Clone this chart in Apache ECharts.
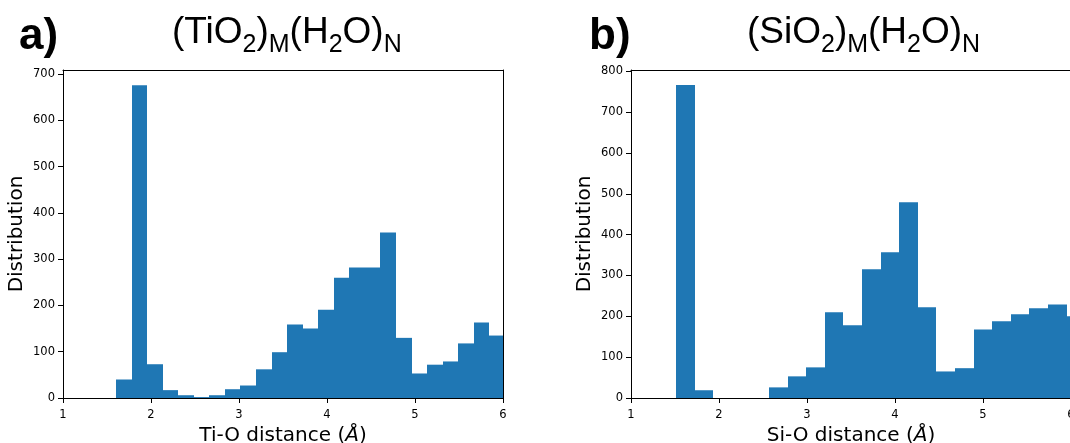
<!DOCTYPE html>
<html>
<head>
<meta charset="utf-8">
<script src="https://cdn.jsdelivr.net/npm/echarts@6/dist/echarts.min.js"></script>
<style>
  html, body { margin: 0; padding: 0; background: #fff; }
  #chart { width: 1070px; height: 443px; }
</style>
</head>
<body>
<div id="chart"></div>
<script>
// ---- Data ----
// Panel a) Ti-O distance histogram
const tiBinStart = 1.602;
const tiBinWidth = 0.1768;
const tiCounts = [40, 676, 73, 17, 6, 2, 6, 19, 27, 62, 99, 159, 150, 191, 260, 282, 282, 358, 130, 53, 72, 79, 118, 163, 135];
const tiYMax = 709;
const tiYTicks = [0, 100, 200, 300, 400, 500, 600, 700];

// Panel b) Si-O distance histogram
const siBinStart = 1.511;
const siBinWidth = 0.2114;
const siCounts = [766, 19, 0, 0, 0, 26, 53, 75, 210, 178, 315, 357, 479, 222, 65, 73, 168, 188, 205, 220, 229, 200];
const siYMax = 803;
const siYTicks = [0, 100, 200, 300, 400, 500, 600, 700, 800];

const xMin = 1, xMax = 6;
const xTicks = [1, 2, 3, 4, 5, 6];

const panelLetters = ['a)', 'b)'];
const panelTitles = [
  '{m|(TiO}{s|2}{m|)}{s|M}{m|(H}{s|2}{m|O)}{s|N}',
  '{m|(SiO}{s|2}{m|)}{s|M}{m|(H}{s|2}{m|O)}{s|N}'
];
const xNames = ['Ti-O distance ({i|Å})', 'Si-O distance ({i|Å})'];
const yName = 'Distribution';

// ---- Build ----
function bins(start, width, counts) {
  return counts.map((c, i) => [start + i * width, start + (i + 1) * width, c]);
}

const BAR = '#1f77b4';
const tickFont = { fontFamily: 'DejaVu Sans', fontSize: 11.5, color: '#000' };
const nameFont = { fontFamily: 'DejaVu Sans', fontSize: 20, color: '#000' };

function renderBar(params, api) {
  const x0 = api.value(0), x1 = api.value(1), y = api.value(2);
  const p0 = api.coord([x0, y]);
  const p1 = api.coord([x1, 0]);
  const left = Math.round(p0[0]);
  const right = Math.round(p1[0]);
  return {
    type: 'rect',
    shape: { x: left, y: p0[1], width: right - left, height: p1[1] - p0[1] },
    style: { fill: BAR }
  };
}

const grids = [
  { left: 63, top: 70, width: 440, height: 328, outerBoundsMode: 'none', containLabel: false },
  { left: 631, top: 70, width: 440, height: 328, outerBoundsMode: 'none', containLabel: false }
];

const xAxes = [], yAxes = [];
[0, 1].forEach(g => {
  xAxes.push({
    type: 'value', gridIndex: g, min: xMin, max: xMax, interval: 1, z: 5,
    name: xNames[g], nameLocation: 'middle', nameGap: 28,
    nameTextStyle: Object.assign({}, nameFont, { rich: { i: Object.assign({}, nameFont, { fontStyle: 'italic' }) } }),
    axisLine: { show: true, onZero: false, lineStyle: { color: '#000', width: 1 } },
    axisTick: { show: true, length: 5, lineStyle: { color: '#000', width: 1 }, customValues: xTicks },
    axisLabel: Object.assign({ margin: 11, customValues: xTicks, hideOverlap: false }, tickFont),
    splitLine: { show: false }
  });
  xAxes.push({
    type: 'value', gridIndex: g, position: 'top', min: xMin, max: xMax, z: 5,
    axisLine: { show: true, onZero: false, lineStyle: { color: '#000', width: 1 } },
    axisTick: { show: false }, axisLabel: { show: false }, splitLine: { show: false }
  });
  const yt = g === 0 ? tiYTicks : siYTicks;
  yAxes.push({
    type: 'value', gridIndex: g, min: 0, max: g === 0 ? tiYMax : siYMax, z: 5,
    name: yName, nameLocation: 'middle', nameGap: 36, nameRotate: 90,
    nameTextStyle: nameFont,
    axisLine: { show: true, onZero: false, lineStyle: { color: '#000', width: 1 } },
    axisTick: { show: true, length: 5, lineStyle: { color: '#000', width: 1 }, customValues: yt },
    axisLabel: Object.assign({ margin: 8, customValues: yt }, tickFont),
    splitLine: { show: false }
  });
  yAxes.push({
    type: 'value', gridIndex: g, position: 'right', min: 0, max: g === 0 ? tiYMax : siYMax, z: 5,
    axisLine: { show: true, onZero: false, lineStyle: { color: '#000', width: 1 } },
    axisTick: { show: false }, axisLabel: { show: false }, splitLine: { show: false }
  });
});

const titleRich = {
  m: { fontFamily: 'Liberation Sans', fontWeight: 'normal', fontSize: 37, color: '#000' },
  s: { fontFamily: 'Liberation Sans', fontWeight: 'normal', fontSize: 25, color: '#000', padding: [25, 0, 0, 0] }
};
const letterStyle = { fontFamily: 'Liberation Sans', fontWeight: 'bold', fontSize: 44, color: '#000' };

const option = {
  animation: false,
  backgroundColor: '#fff',
  title: [
    { text: panelLetters[0], left: 19, top: 15, padding: 0, textStyle: letterStyle },
    { text: panelLetters[1], left: 589, top: 15, padding: 0, textStyle: letterStyle },
    { text: panelTitles[0], left: 172, top: 8, padding: 0, textStyle: { fontWeight: 'normal', rich: titleRich } },
    { text: panelTitles[1], left: 747, top: 8, padding: 0, textStyle: { fontWeight: 'normal', rich: titleRich } }
  ],
  grid: grids,
  xAxis: xAxes,
  yAxis: yAxes,
  series: [
    {
      type: 'custom', xAxisIndex: 0, yAxisIndex: 0, clip: true,
      renderItem: renderBar, encode: { x: [0, 1], y: 2 },
      data: bins(tiBinStart, tiBinWidth, tiCounts)
    },
    {
      type: 'custom', xAxisIndex: 2, yAxisIndex: 2, clip: true,
      renderItem: renderBar, encode: { x: [0, 1], y: 2 },
      data: bins(siBinStart, siBinWidth, siCounts)
    }
  ]
};

const chart = echarts.init(document.getElementById('chart'), null, { renderer: 'canvas' });
chart.setOption(option);
</script>
</body>
</html>
